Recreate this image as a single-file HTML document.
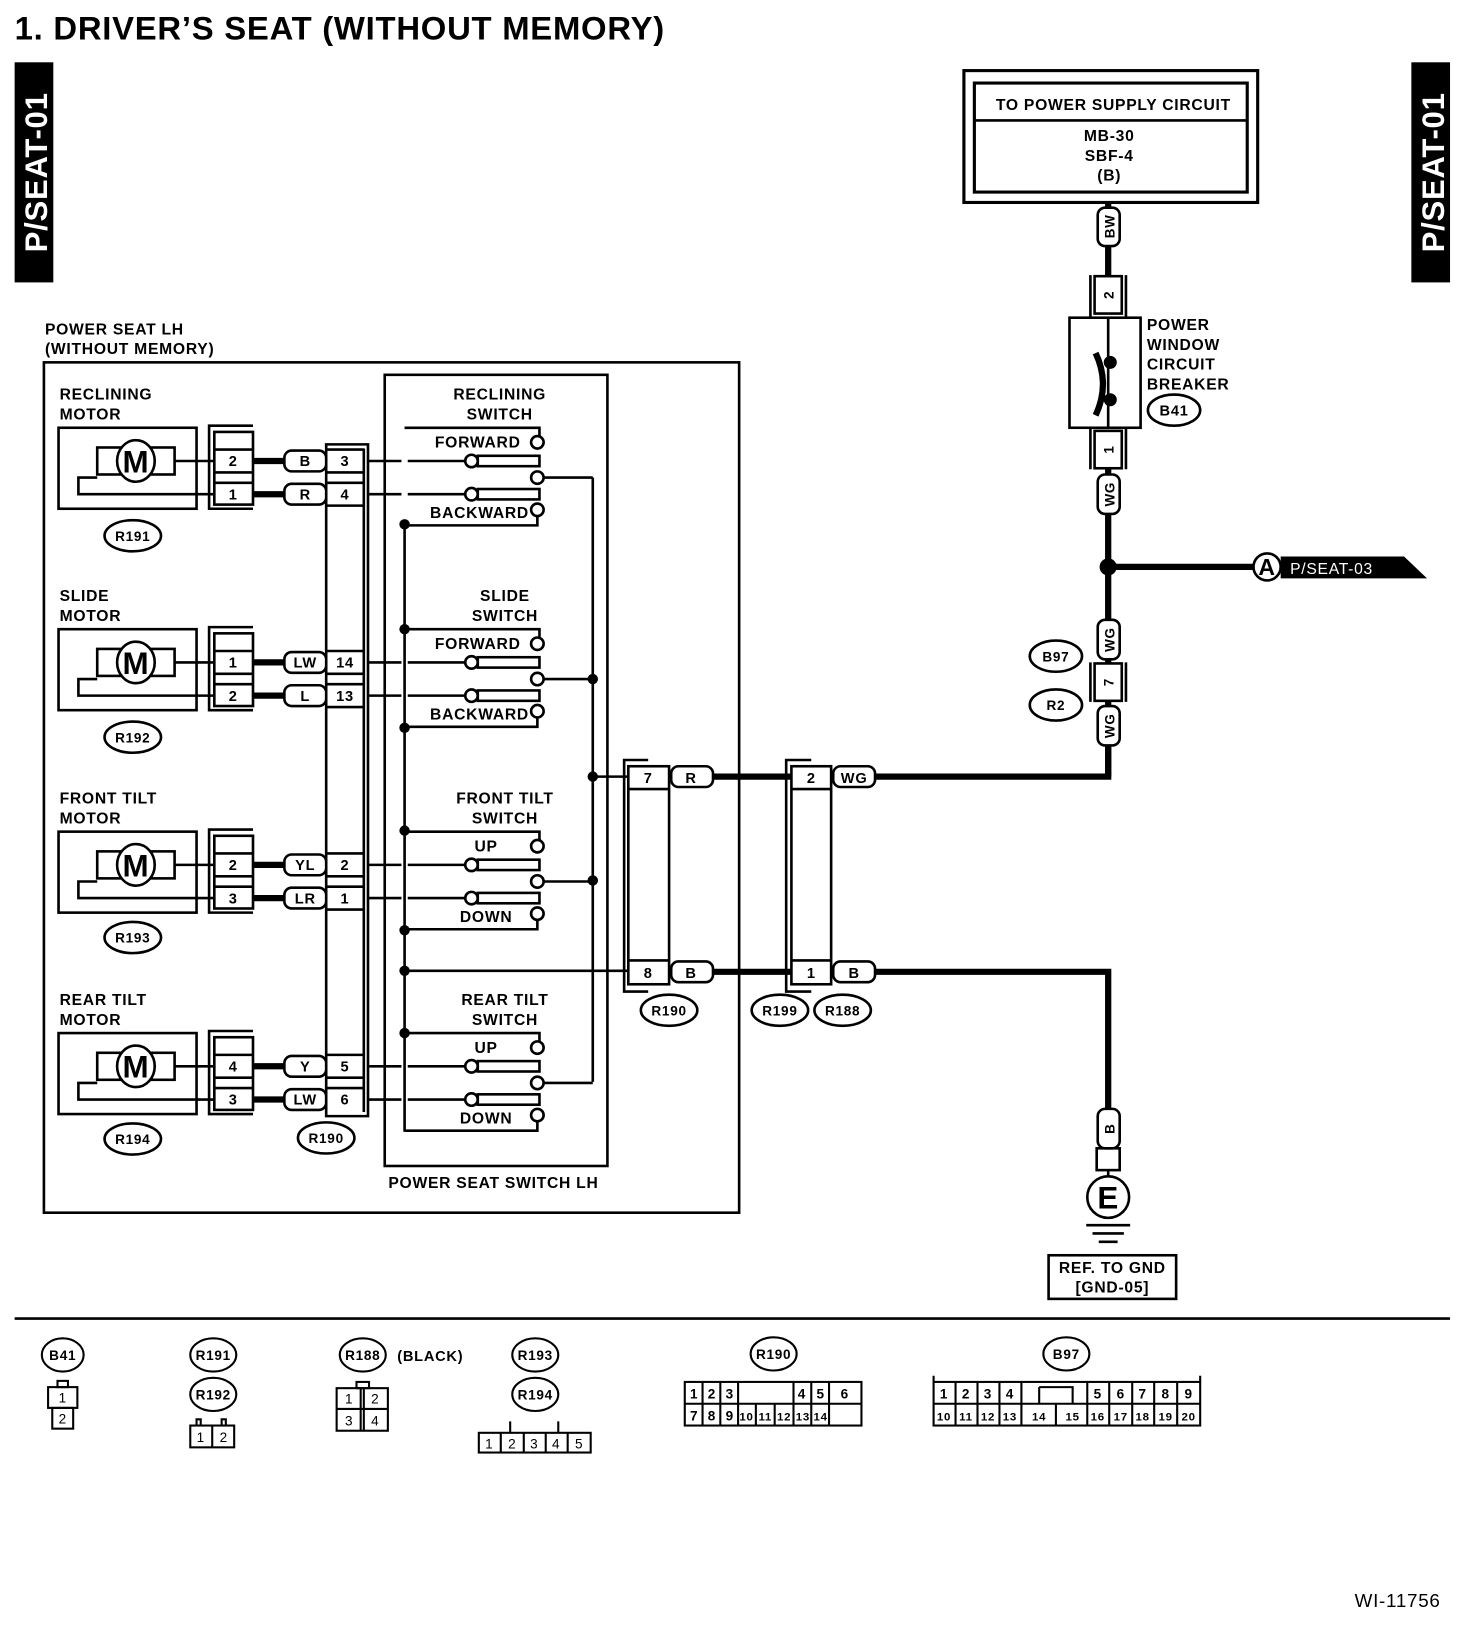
<!DOCTYPE html>
<html><head><meta charset="utf-8"><style>
html,body{margin:0;padding:0;background:#fff;}
svg{display:block;}
text{font-family:"Liberation Sans",Arial,sans-serif;font-weight:bold;fill:#000;letter-spacing:0.7px;}
</style></head><body>
<svg width="1472" height="1628" viewBox="0 0 1408 1568" preserveAspectRatio="none" xmlns="http://www.w3.org/2000/svg">
<g fill="none" stroke="#000" stroke-width="2.5">

<!-- title -->
<text x="14" y="38" font-size="31" stroke="none" textLength="622" lengthAdjust="spacingAndGlyphs">1.  DRIVER’S SEAT (WITHOUT MEMORY)</text>

<!-- tabs -->
<rect x="14" y="60" width="37" height="212" fill="#000" stroke="none"/>
<text transform="translate(45,166) rotate(-90)" text-anchor="middle" font-size="30" stroke="none" style="fill:#fff">P/SEAT-01</text>
<rect x="1350" y="60" width="37" height="212" fill="#000" stroke="none"/>
<text transform="translate(1381,166) rotate(-90)" text-anchor="middle" font-size="30" stroke="none" style="fill:#fff">P/SEAT-01</text>

<!-- power supply box -->
<rect x="922" y="68" width="281" height="127" stroke-width="3"/>
<rect x="932" y="80" width="261" height="105" stroke-width="3"/>
<line x1="932" y1="116" x2="1193" y2="116"/>
<text x="1065" y="106" text-anchor="middle" font-size="15" stroke="none">TO POWER SUPPLY CIRCUIT</text>
<text x="1061" y="136" text-anchor="middle" font-size="15" stroke="none">MB-30</text>
<text x="1061" y="155" text-anchor="middle" font-size="15" stroke="none">SBF-4</text>
<text x="1061" y="174" text-anchor="middle" font-size="15" stroke="none">(B)</text>

<!-- right vertical wire -->
<line x1="1060" y1="195" x2="1060" y2="265" stroke-width="6"/>
<rect x="1050" y="200" width="21" height="37" rx="7" fill="#fff"/>
<text transform="translate(1066,218) rotate(-90)" text-anchor="middle" font-size="13" stroke="none">BW</text>
<path d="M1043 265V306M1077 265V306"/>
<rect x="1047" y="266" width="26" height="36" fill="#fff"/>
<text transform="translate(1065,284) rotate(-90)" text-anchor="middle" font-size="13" stroke="none">2</text>
<rect x="1023" y="306" width="68" height="106" fill="#fff"/>
<line x1="1060" y1="306" x2="1060" y2="412"/>
<path d="M1048 340 Q1062 370 1048 400" stroke-width="6"/>
<circle cx="1062" cy="349" r="5" fill="#000"/>
<circle cx="1062" cy="385" r="5" fill="#000"/>
<path d="M1043 412V452M1077 412V452"/>
<rect x="1047" y="415" width="26" height="36" fill="#fff"/>
<text transform="translate(1065,433) rotate(-90)" text-anchor="middle" font-size="13" stroke="none">1</text>
<line x1="1060" y1="452" x2="1060" y2="748" stroke-width="6"/>
<rect x="1050" y="457" width="21" height="38" rx="7" fill="#fff"/>
<text transform="translate(1066,476) rotate(-90)" text-anchor="middle" font-size="13" stroke="none">WG</text>
<text x="1097" y="318" font-size="15" stroke="none">POWER</text>
<text x="1097" y="337" font-size="15" stroke="none">WINDOW</text>
<text x="1097" y="356" font-size="15" stroke="none">CIRCUIT</text>
<text x="1097" y="375" font-size="15" stroke="none">BREAKER</text>
<ellipse cx="1123" cy="395" rx="25" ry="15"/>
<text x="1123" y="400" text-anchor="middle" font-size="14" stroke="none">B41</text>

<!-- junction A -->
<circle cx="1060" cy="546" r="7" fill="#000"/>
<line x1="1060" y1="546" x2="1200" y2="546" stroke-width="6"/>
<circle cx="1212" cy="546" r="13" fill="#fff"/>
<text x="1212" y="554" text-anchor="middle" font-size="22" stroke="none">A</text>
<polygon points="1225,536 1343,536 1365,557 1225,557" fill="#000" stroke="none"/>
<text x="1234" y="553" font-size="15" stroke="none" style="fill:#fff;font-weight:normal">P/SEAT-03</text>

<rect x="1050" y="597" width="21" height="38" rx="7" fill="#fff"/>
<text transform="translate(1066,616) rotate(-90)" text-anchor="middle" font-size="13" stroke="none">WG</text>
<path d="M1043 638V676M1077 638V676"/>
<rect x="1047" y="639" width="26" height="36" fill="#fff"/>
<text transform="translate(1065,657) rotate(-90)" text-anchor="middle" font-size="13" stroke="none">7</text>
<rect x="1050" y="680" width="21" height="38" rx="7" fill="#fff"/>
<text transform="translate(1066,699) rotate(-90)" text-anchor="middle" font-size="13" stroke="none">WG</text>
<ellipse cx="1010" cy="632" rx="25" ry="15"/>
<text x="1010" y="637" text-anchor="middle" font-size="13" stroke="none">B97</text>
<ellipse cx="1010" cy="679" rx="25" ry="15"/>
<text x="1010" y="684" text-anchor="middle" font-size="13" stroke="none">R2</text>

<!-- wires WG / B -->
<path d="M1060 718V748H838" stroke-width="6"/>
<path d="M838 936H1060V1068" stroke-width="6"/>
<line x1="680" y1="748" x2="757" y2="748" stroke-width="6"/>
<line x1="680" y1="936" x2="757" y2="936" stroke-width="6"/>

<!-- R199 connector -->
<path d="M776 732H752V955H776"/>
<rect x="757" y="738" width="38" height="210" fill="#fff"/>
<path d="M757 760H795M757 925H795"/>
<text x="776" y="754" text-anchor="middle" font-size="14" stroke="none">2</text>
<text x="776" y="942" text-anchor="middle" font-size="14" stroke="none">1</text>
<rect x="797" y="738" width="40" height="20" rx="7" fill="#fff"/>
<text x="817" y="754" text-anchor="middle" font-size="14" stroke="none">WG</text>
<rect x="797" y="926" width="40" height="20" rx="7" fill="#fff"/>
<text x="817" y="942" text-anchor="middle" font-size="14" stroke="none">B</text>
<ellipse cx="746" cy="973" rx="27" ry="15"/>
<text x="746" y="978" text-anchor="middle" font-size="13" stroke="none">R199</text>
<ellipse cx="806" cy="973" rx="27" ry="15"/>
<text x="806" y="978" text-anchor="middle" font-size="13" stroke="none">R188</text>

<!-- ground -->
<rect x="1050" y="1068" width="21" height="38" rx="7" fill="#fff"/>
<text transform="translate(1066,1087) rotate(-90)" text-anchor="middle" font-size="13" stroke="none">B</text>
<rect x="1049" y="1106" width="22" height="21"/>
<line x1="1060" y1="1127" x2="1060" y2="1134"/>
<circle cx="1060" cy="1153" r="20"/>
<text x="1060" y="1164" text-anchor="middle" font-size="30" stroke="none">E</text>
<path d="M1039 1180H1081M1045 1188H1075M1051 1196H1069"/>
<rect x="1003" y="1209" width="122" height="42"/>
<text x="1064" y="1226" text-anchor="middle" font-size="15" stroke="none">REF. TO GND</text>
<text x="1064" y="1245" text-anchor="middle" font-size="15" stroke="none">[GND-05]</text>

<!-- main boxes -->
<rect x="42" y="349" width="665" height="819"/>
<rect x="368" y="361" width="213" height="762"/>
<text x="43" y="322" font-size="15" stroke="none">POWER SEAT LH</text>
<text x="43" y="341" font-size="15" stroke="none">(WITHOUT MEMORY)</text>
<text x="472" y="1144" text-anchor="middle" font-size="15" stroke="none">POWER SEAT SWITCH LH</text>

<!-- R190 left column -->
<path d="M312 428H352V1075H312Z"/>
<line x1="348" y1="432" x2="348" y2="1071"/>

<!-- R190 right connector -->
<path d="M620 732H597V955H620"/>
<rect x="601" y="738" width="39" height="210" fill="#fff"/>
<path d="M601 760H640M601 925H640"/>
<text x="620" y="754" text-anchor="middle" font-size="14" stroke="none">7</text>
<text x="620" y="942" text-anchor="middle" font-size="14" stroke="none">8</text>
<rect x="642" y="738" width="40" height="20" rx="7" fill="#fff"/>
<text x="661" y="754" text-anchor="middle" font-size="14" stroke="none">R</text>
<rect x="642" y="926" width="40" height="20" rx="7" fill="#fff"/>
<text x="661" y="942" text-anchor="middle" font-size="14" stroke="none">B</text>
<ellipse cx="640" cy="973" rx="27" ry="15"/>
<text x="640" y="978" text-anchor="middle" font-size="13" stroke="none">R190</text>
<ellipse cx="312" cy="1096" rx="27" ry="15"/>
<text x="312" y="1101" text-anchor="middle" font-size="13" stroke="none">R190</text>

<!-- switch common lines -->
<line x1="387" y1="505" x2="387" y2="1090"/>
<line x1="567" y1="460" x2="567" y2="1042"/>
<line x1="567" y1="748" x2="601" y2="748"/>
<line x1="387" y1="935" x2="601" y2="935"/>
<g fill="#000" stroke="none">
<circle cx="387" cy="505" r="5"/><circle cx="387" cy="606" r="5"/><circle cx="387" cy="701" r="5"/>
<circle cx="387" cy="800" r="5"/><circle cx="387" cy="896" r="5"/><circle cx="387" cy="935" r="5"/><circle cx="387" cy="995" r="5"/>
<circle cx="567" cy="654" r="5"/><circle cx="567" cy="748" r="5"/><circle cx="567" cy="848" r="5"/>
</g>

<!-- Recline y0=444 -->
<g transform="translate(0,444)">
<text x="57" y="-59" font-size="15" stroke="none">RECLINING</text>
<text x="57" y="-40" font-size="15" stroke="none">MOTOR</text>
<rect x="56" y="-32" width="132" height="78"/>
<rect x="93" y="-13" width="74" height="26"/>
<ellipse cx="130" cy="0" rx="18" ry="20" fill="#fff"/>
<text x="130" y="11" text-anchor="middle" font-size="30" stroke="none">M</text>
<path d="M167 0H205M93 16H75V32H205"/>
<path d="M242 -34H200V46H242"/>
<rect x="205" y="-28" width="37" height="70" fill="#fff"/>
<path d="M205 -11H242M205 11H242M205 21H242"/>
<path d="M242 0H272M242 32H272" stroke-width="6"/>
<rect x="272" y="-10" width="40" height="20" rx="7" fill="#fff"/>
<rect x="272" y="22" width="40" height="20" rx="7" fill="#fff"/>
<path d="M312 -11H348M312 11H348M312 21H348M312 43H348"/>
<path d="M352 0H384M352 32H384M390 0H445M390 32H445"/>
<ellipse cx="127" cy="72" rx="27" ry="15"/>
<text x="127" y="77" text-anchor="middle" font-size="13" stroke="none">R191</text>
<text x="223" y="5" text-anchor="middle" font-size="14" stroke="none">2</text>
<text x="223" y="37" text-anchor="middle" font-size="14" stroke="none">1</text>
<text x="292" y="5" text-anchor="middle" font-size="14" stroke="none">B</text>
<text x="292" y="37" text-anchor="middle" font-size="14" stroke="none">R</text>
<text x="330" y="5" text-anchor="middle" font-size="14" stroke="none">3</text>
<text x="330" y="37" text-anchor="middle" font-size="14" stroke="none">4</text>
<text x="478" y="-59" text-anchor="middle" font-size="15" stroke="none">RECLINING</text>
<text x="478" y="-40" text-anchor="middle" font-size="15" stroke="none">SWITCH</text>
<path d="M387 -32H516V-24M514 53V62H387"/>
<circle cx="514" cy="-18" r="6" fill="#fff"/>
<circle cx="451" cy="0" r="6" fill="#fff"/><rect x="457" y="-5" width="59" height="10"/>
<circle cx="514" cy="16" r="6" fill="#fff"/><line x1="520" y1="16" x2="567" y2="16"/>
<circle cx="451" cy="32" r="6" fill="#fff"/><rect x="457" y="27" width="59" height="10"/>
<circle cx="514" cy="47" r="6" fill="#fff"/>
<text x="498" y="-13" text-anchor="end" font-size="15" stroke="none">FORWARD</text>
<text x="506" y="55" text-anchor="end" font-size="15" stroke="none">BACKWARD</text>
</g>

<!-- Slide y0=638 -->
<g transform="translate(0,638)">
<text x="57" y="-59" font-size="15" stroke="none">SLIDE</text>
<text x="57" y="-40" font-size="15" stroke="none">MOTOR</text>
<rect x="56" y="-32" width="132" height="78"/>
<rect x="93" y="-13" width="74" height="26"/>
<ellipse cx="130" cy="0" rx="18" ry="20" fill="#fff"/>
<text x="130" y="11" text-anchor="middle" font-size="30" stroke="none">M</text>
<path d="M167 0H205M93 16H75V32H205"/>
<path d="M242 -34H200V46H242"/>
<rect x="205" y="-28" width="37" height="70" fill="#fff"/>
<path d="M205 -11H242M205 11H242M205 21H242"/>
<path d="M242 0H272M242 32H272" stroke-width="6"/>
<rect x="272" y="-10" width="40" height="20" rx="7" fill="#fff"/>
<rect x="272" y="22" width="40" height="20" rx="7" fill="#fff"/>
<path d="M312 -11H348M312 11H348M312 21H348M312 43H348"/>
<path d="M352 0H384M352 32H384M390 0H445M390 32H445"/>
<ellipse cx="127" cy="72" rx="27" ry="15"/>
<text x="127" y="77" text-anchor="middle" font-size="13" stroke="none">R192</text>
<text x="223" y="5" text-anchor="middle" font-size="14" stroke="none">1</text>
<text x="223" y="37" text-anchor="middle" font-size="14" stroke="none">2</text>
<text x="292" y="5" text-anchor="middle" font-size="14" stroke="none">LW</text>
<text x="292" y="37" text-anchor="middle" font-size="14" stroke="none">L</text>
<text x="330" y="5" text-anchor="middle" font-size="14" stroke="none">14</text>
<text x="330" y="37" text-anchor="middle" font-size="14" stroke="none">13</text>
<text x="483" y="-59" text-anchor="middle" font-size="15" stroke="none">SLIDE</text>
<text x="483" y="-40" text-anchor="middle" font-size="15" stroke="none">SWITCH</text>
<path d="M387 -32H516V-24M514 53V62H387"/>
<circle cx="514" cy="-18" r="6" fill="#fff"/>
<circle cx="451" cy="0" r="6" fill="#fff"/><rect x="457" y="-5" width="59" height="10"/>
<circle cx="514" cy="16" r="6" fill="#fff"/><line x1="520" y1="16" x2="567" y2="16"/>
<circle cx="451" cy="32" r="6" fill="#fff"/><rect x="457" y="27" width="59" height="10"/>
<circle cx="514" cy="47" r="6" fill="#fff"/>
<text x="498" y="-13" text-anchor="end" font-size="15" stroke="none">FORWARD</text>
<text x="506" y="55" text-anchor="end" font-size="15" stroke="none">BACKWARD</text>
</g>

<!-- Front tilt y0=833 -->
<g transform="translate(0,833)">
<text x="57" y="-59" font-size="15" stroke="none">FRONT TILT</text>
<text x="57" y="-40" font-size="15" stroke="none">MOTOR</text>
<rect x="56" y="-32" width="132" height="78"/>
<rect x="93" y="-13" width="74" height="26"/>
<ellipse cx="130" cy="0" rx="18" ry="20" fill="#fff"/>
<text x="130" y="11" text-anchor="middle" font-size="30" stroke="none">M</text>
<path d="M167 0H205M93 16H75V32H205"/>
<path d="M242 -34H200V46H242"/>
<rect x="205" y="-28" width="37" height="70" fill="#fff"/>
<path d="M205 -11H242M205 11H242M205 21H242"/>
<path d="M242 0H272M242 32H272" stroke-width="6"/>
<rect x="272" y="-10" width="40" height="20" rx="7" fill="#fff"/>
<rect x="272" y="22" width="40" height="20" rx="7" fill="#fff"/>
<path d="M312 -11H348M312 11H348M312 21H348M312 43H348"/>
<path d="M352 0H384M352 32H384M390 0H445M390 32H445"/>
<ellipse cx="127" cy="70" rx="27" ry="15"/>
<text x="127" y="75" text-anchor="middle" font-size="13" stroke="none">R193</text>
<text x="223" y="5" text-anchor="middle" font-size="14" stroke="none">2</text>
<text x="223" y="37" text-anchor="middle" font-size="14" stroke="none">3</text>
<text x="292" y="5" text-anchor="middle" font-size="14" stroke="none">YL</text>
<text x="292" y="37" text-anchor="middle" font-size="14" stroke="none">LR</text>
<text x="330" y="5" text-anchor="middle" font-size="14" stroke="none">2</text>
<text x="330" y="37" text-anchor="middle" font-size="14" stroke="none">1</text>
<text x="483" y="-59" text-anchor="middle" font-size="15" stroke="none">FRONT TILT</text>
<text x="483" y="-40" text-anchor="middle" font-size="15" stroke="none">SWITCH</text>
<path d="M387 -32H516V-24M514 53V62H387"/>
<circle cx="514" cy="-18" r="6" fill="#fff"/>
<circle cx="451" cy="0" r="6" fill="#fff"/><rect x="457" y="-5" width="59" height="10"/>
<circle cx="514" cy="16" r="6" fill="#fff"/><line x1="520" y1="16" x2="567" y2="16"/>
<circle cx="451" cy="32" r="6" fill="#fff"/><rect x="457" y="27" width="59" height="10"/>
<circle cx="514" cy="47" r="6" fill="#fff"/>
<text x="465" y="-13" text-anchor="middle" font-size="15" stroke="none">UP</text>
<text x="465" y="55" text-anchor="middle" font-size="15" stroke="none">DOWN</text>
</g>

<!-- Rear tilt y0=1027 -->
<g transform="translate(0,1027)">
<text x="57" y="-59" font-size="15" stroke="none">REAR TILT</text>
<text x="57" y="-40" font-size="15" stroke="none">MOTOR</text>
<rect x="56" y="-32" width="132" height="78"/>
<rect x="93" y="-13" width="74" height="26"/>
<ellipse cx="130" cy="0" rx="18" ry="20" fill="#fff"/>
<text x="130" y="11" text-anchor="middle" font-size="30" stroke="none">M</text>
<path d="M167 0H205M93 16H75V32H205"/>
<path d="M242 -34H200V46H242"/>
<rect x="205" y="-28" width="37" height="70" fill="#fff"/>
<path d="M205 -11H242M205 11H242M205 21H242"/>
<path d="M242 0H272M242 32H272" stroke-width="6"/>
<rect x="272" y="-10" width="40" height="20" rx="7" fill="#fff"/>
<rect x="272" y="22" width="40" height="20" rx="7" fill="#fff"/>
<path d="M312 -11H348M312 11H348M312 21H348"/>
<path d="M352 0H384M352 32H384M390 0H445M390 32H445"/>
<ellipse cx="127" cy="70" rx="27" ry="15"/>
<text x="127" y="75" text-anchor="middle" font-size="13" stroke="none">R194</text>
<text x="223" y="5" text-anchor="middle" font-size="14" stroke="none">4</text>
<text x="223" y="37" text-anchor="middle" font-size="14" stroke="none">3</text>
<text x="292" y="5" text-anchor="middle" font-size="14" stroke="none">Y</text>
<text x="292" y="37" text-anchor="middle" font-size="14" stroke="none">LW</text>
<text x="330" y="5" text-anchor="middle" font-size="14" stroke="none">5</text>
<text x="330" y="37" text-anchor="middle" font-size="14" stroke="none">6</text>
<text x="483" y="-59" text-anchor="middle" font-size="15" stroke="none">REAR TILT</text>
<text x="483" y="-40" text-anchor="middle" font-size="15" stroke="none">SWITCH</text>
<path d="M387 -32H516V-24M514 53V62H387"/>
<circle cx="514" cy="-18" r="6" fill="#fff"/>
<circle cx="451" cy="0" r="6" fill="#fff"/><rect x="457" y="-5" width="59" height="10"/>
<circle cx="514" cy="16" r="6" fill="#fff"/><line x1="520" y1="16" x2="567" y2="16"/>
<circle cx="451" cy="32" r="6" fill="#fff"/><rect x="457" y="27" width="59" height="10"/>
<circle cx="514" cy="47" r="6" fill="#fff"/>
<text x="465" y="-13" text-anchor="middle" font-size="15" stroke="none">UP</text>
<text x="465" y="55" text-anchor="middle" font-size="15" stroke="none">DOWN</text>
</g>

<!-- bottom separator -->
<line x1="14" y1="1270" x2="1387" y2="1270" stroke-width="2.5"/>

<!-- bottom connector views -->
<g stroke-width="2" font-size="13">
<ellipse cx="60" cy="1305" rx="20" ry="16"/>
<text x="60" y="1310" text-anchor="middle" font-size="13" stroke="none">B41</text>
<rect x="55" y="1330" width="10" height="6"/>
<rect x="46" y="1336" width="28" height="20"/>
<rect x="50" y="1356" width="20" height="20"/>
<text x="60" y="1351" text-anchor="middle" font-size="13" stroke="none" style="font-weight:normal">1</text>
<text x="60" y="1371" text-anchor="middle" font-size="13" stroke="none" style="font-weight:normal">2</text>

<ellipse cx="204" cy="1305" rx="22" ry="16"/>
<text x="204" y="1310" text-anchor="middle" font-size="13" stroke="none">R191</text>
<ellipse cx="204" cy="1343" rx="22" ry="16"/>
<text x="204" y="1348" text-anchor="middle" font-size="13" stroke="none">R192</text>
<rect x="182" y="1373" width="42" height="21"/>
<line x1="203" y1="1373" x2="203" y2="1394"/>
<path d="M188 1373V1367H192V1373M212 1373V1367H216V1373"/>
<text x="192" y="1389" text-anchor="middle" stroke="none" style="font-weight:normal">1</text>
<text x="214" y="1389" text-anchor="middle" stroke="none" style="font-weight:normal">2</text>

<ellipse cx="347" cy="1305" rx="22" ry="16"/>
<text x="347" y="1310" text-anchor="middle" font-size="13" stroke="none">R188</text>
<text x="380" y="1311" font-size="14" stroke="none">(BLACK)</text>
<rect x="341" y="1331" width="12" height="6"/>
<rect x="322" y="1337" width="49" height="41"/>
<path d="M345 1337V1378M348 1337V1378M322 1357H371"/>
<text x="334" y="1352" text-anchor="middle" stroke="none" style="font-weight:normal">1</text>
<text x="359" y="1352" text-anchor="middle" stroke="none" style="font-weight:normal">2</text>
<text x="334" y="1373" text-anchor="middle" stroke="none" style="font-weight:normal">3</text>
<text x="359" y="1373" text-anchor="middle" stroke="none" style="font-weight:normal">4</text>

<ellipse cx="512" cy="1305" rx="22" ry="16"/>
<text x="512" y="1310" text-anchor="middle" font-size="13" stroke="none">R193</text>
<ellipse cx="512" cy="1343" rx="22" ry="16"/>
<text x="512" y="1348" text-anchor="middle" font-size="13" stroke="none">R194</text>
<rect x="458" y="1380" width="107" height="19"/>
<path d="M479 1380V1399M501 1380V1399M522 1380V1399M543 1380V1399M488 1380V1369M534 1380V1369"/>
<text x="468" y="1395" text-anchor="middle" stroke="none" style="font-weight:normal">1</text>
<text x="490" y="1395" text-anchor="middle" stroke="none" style="font-weight:normal">2</text>
<text x="511" y="1395" text-anchor="middle" stroke="none" style="font-weight:normal">3</text>
<text x="532" y="1395" text-anchor="middle" stroke="none" style="font-weight:normal">4</text>
<text x="554" y="1395" text-anchor="middle" stroke="none" style="font-weight:normal">5</text>

<ellipse cx="740" cy="1304" rx="22" ry="16"/>
<text x="740" y="1309" text-anchor="middle" font-size="13" stroke="none">R190</text>
<rect x="655" y="1331" width="169" height="42"/>
<path d="M655 1352H824M672 1331V1373M689 1331V1373M706 1352V1373M723 1352V1373M741 1352V1373M759 1331V1373M776 1331V1373M793 1331V1373M706 1331V1352"/>
<g stroke="none" text-anchor="middle" style="font-weight:normal">
<text x="664" y="1347">1</text><text x="681" y="1347">2</text><text x="698" y="1347">3</text><text x="767" y="1347">4</text><text x="785" y="1347">5</text><text x="808" y="1347">6</text>
<text x="664" y="1368">7</text><text x="681" y="1368">8</text><text x="698" y="1368">9</text><text x="714" y="1368" font-size="11">10</text><text x="732" y="1368" font-size="11">11</text><text x="750" y="1368" font-size="11">12</text><text x="768" y="1368" font-size="11">13</text><text x="785" y="1368" font-size="11">14</text>
</g>

<ellipse cx="1020" cy="1304" rx="22" ry="16"/>
<text x="1020" y="1309" text-anchor="middle" font-size="13" stroke="none">B97</text>
<rect x="893" y="1331" width="255" height="42"/>
<path d="M893 1352H1148M893 1331V1325M1148 1331V1325M914 1331V1373M935 1331V1373M956 1331V1373M977 1331V1373M1040 1331V1373M1061 1331V1373M1083 1331V1373M1104 1331V1373M1126 1331V1373M1010 1352V1373M994 1336H1026V1352M994 1336V1352"/>
<g stroke="none" text-anchor="middle" style="font-weight:normal">
<text x="903" y="1347">1</text><text x="924" y="1347">2</text><text x="945" y="1347">3</text><text x="966" y="1347">4</text><text x="1050" y="1347">5</text><text x="1072" y="1347">6</text><text x="1093" y="1347">7</text><text x="1115" y="1347">8</text><text x="1137" y="1347">9</text>
<g font-size="11"><text x="903" y="1368">10</text><text x="924" y="1368">11</text><text x="945" y="1368">12</text><text x="966" y="1368">13</text><text x="994" y="1368">14</text><text x="1026" y="1368">15</text><text x="1050" y="1368">16</text><text x="1072" y="1368">17</text><text x="1093" y="1368">18</text><text x="1115" y="1368">19</text><text x="1137" y="1368">20</text></g>
</g>
</g>

<text x="1378" y="1548" text-anchor="end" font-size="18" stroke="none" style="font-weight:normal">WI-11756</text>
</g>
</svg>
</body></html>
